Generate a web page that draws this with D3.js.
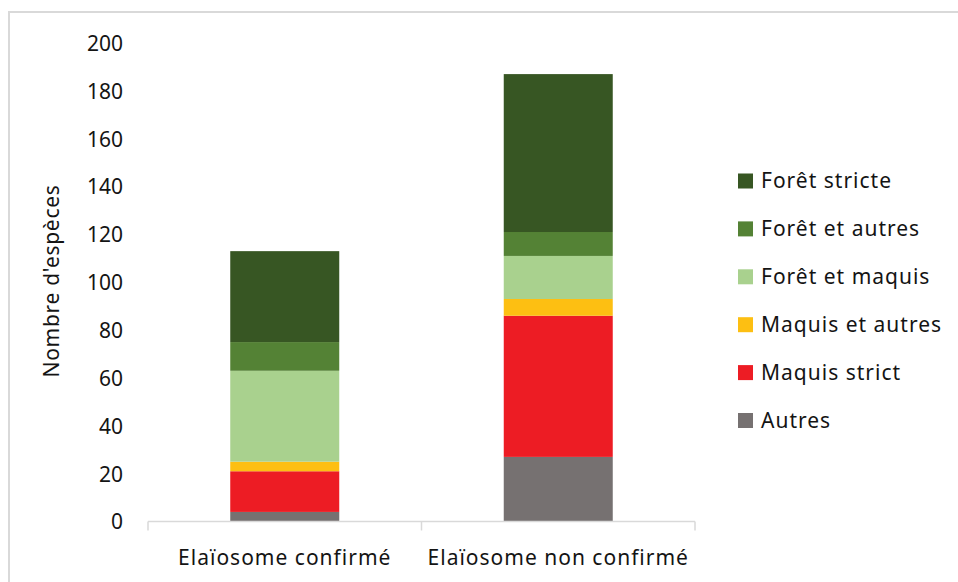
<!DOCTYPE html>
<html><head><meta charset="utf-8">
<script src="https://cdn.jsdelivr.net/npm/d3@7"></script>
<style>body{margin:0;background:#fff;} svg{display:block;} text{font-family:"Noto Sans",sans-serif;fill:#141414;}</style>
</head><body>
<svg id="c" width="958" height="582"></svg>
<script>
const categories = ["Elaïosome confirmé", "Elaïosome non confirmé"];
const seriesNames = ["Autres", "Maquis strict", "Maquis et autres", "Forêt et maquis", "Forêt et autres", "Forêt stricte"];
const autres = [4, 27];
const maquisStrict = [17, 59];
const maquisEtAutres = [4, 7];
const foretEtMaquis = [38, 18];
const foretEtAutres = [12, 10];
const foretStricte = [38, 66];
const yTicks = [0, 20, 40, 60, 80, 100, 120, 140, 160, 180, 200];
const colors = ["#767171", "#ED1C24", "#FDBF12", "#A9D18E", "#548235", "#375623"];

const seriesValues = [autres, maquisStrict, maquisEtAutres, foretEtMaquis, foretEtAutres, foretStricte];
const rows = categories.map((c, i) => {
  const r = {cat: c};
  seriesNames.forEach((s, j) => r[s] = seriesValues[j][i]);
  return r;
});
const stacked = d3.stack().keys(seriesNames)(rows);

const svg = d3.select("#c");
svg.append("rect").attr("x", 9).attr("y", 12).attr("width", 980).attr("height", 600)
  .attr("fill", "none").attr("stroke", "#d9d9d9").attr("stroke-width", 2);

const x = d3.scaleBand().domain(categories).range([148, 695]).paddingInner(0).paddingOuter(0);
const y = d3.scaleLinear().domain([0, 200]).range([521.5, 43]);
const barW = 109;
const color = d3.scaleOrdinal().domain(seriesNames).range(colors);

// bars
svg.append("g").selectAll("g").data(stacked).join("g")
  .attr("fill", d => color(d.key))
  .selectAll("rect").data(d => d).join("rect")
  .attr("x", d => x(d.data.cat) + x.bandwidth() / 2 - barW / 2)
  .attr("width", barW)
  .attr("y", d => y(d[1]))
  .attr("height", d => y(d[0]) - y(d[1]));

// x axis
const xAxis = svg.append("g").attr("transform", `translate(0,${y(0)})`)
  .call(d3.axisBottom(x).tickSize(0).tickPadding(0).tickFormat(""));
xAxis.select(".domain").remove();
xAxis.append("line").attr("x1", 148).attr("x2", 695).attr("stroke", "#d9d9d9").attr("stroke-width", 1.5);
const bounds = [148, 148 + x.bandwidth(), 695];
xAxis.selectAll(".tk").data(bounds).join("line").attr("class", "tk")
  .attr("x1", d => d).attr("x2", d => d).attr("y1", 0).attr("y2", 9)
  .attr("stroke", "#d9d9d9").attr("stroke-width", 1.5);
svg.append("g").selectAll("text").data(categories).join("text")
  .attr("x", d => x(d) + x.bandwidth() / 2).attr("y", 565)
  .attr("text-anchor", "middle").attr("font-size", 21).attr("letter-spacing", 1)
  .text(d => d);

// y axis
const yAxis = svg.append("g").attr("transform", "translate(123,0)")
  .call(d3.axisLeft(y).tickValues(yTicks).tickSize(0).tickPadding(0));
yAxis.select(".domain").remove();
yAxis.selectAll("text").attr("font-size", 21).attr("font-family", "Noto Sans").attr("fill", "#141414").attr("dy", "0.35em");

svg.append("text").attr("transform", "translate(59,281) rotate(-90)")
  .attr("text-anchor", "middle").attr("font-size", 21).attr("letter-spacing", 0.7)
  .text("Nombre d'espèces");

// legend
const legendOrder = seriesNames.slice().reverse();
const lg = svg.append("g").selectAll("g").data(legendOrder).join("g")
  .attr("transform", (d, i) => `translate(738,${181 + i * 47.9})`);
lg.append("rect").attr("x", 0).attr("y", -7.5).attr("width", 15).attr("height", 15).attr("fill", d => color(d));
lg.append("text").attr("x", 23).attr("y", 0).attr("dy", "0.35em").attr("font-size", 21).attr("letter-spacing", 1)
  .text(d => d);
</script>
</body></html>
